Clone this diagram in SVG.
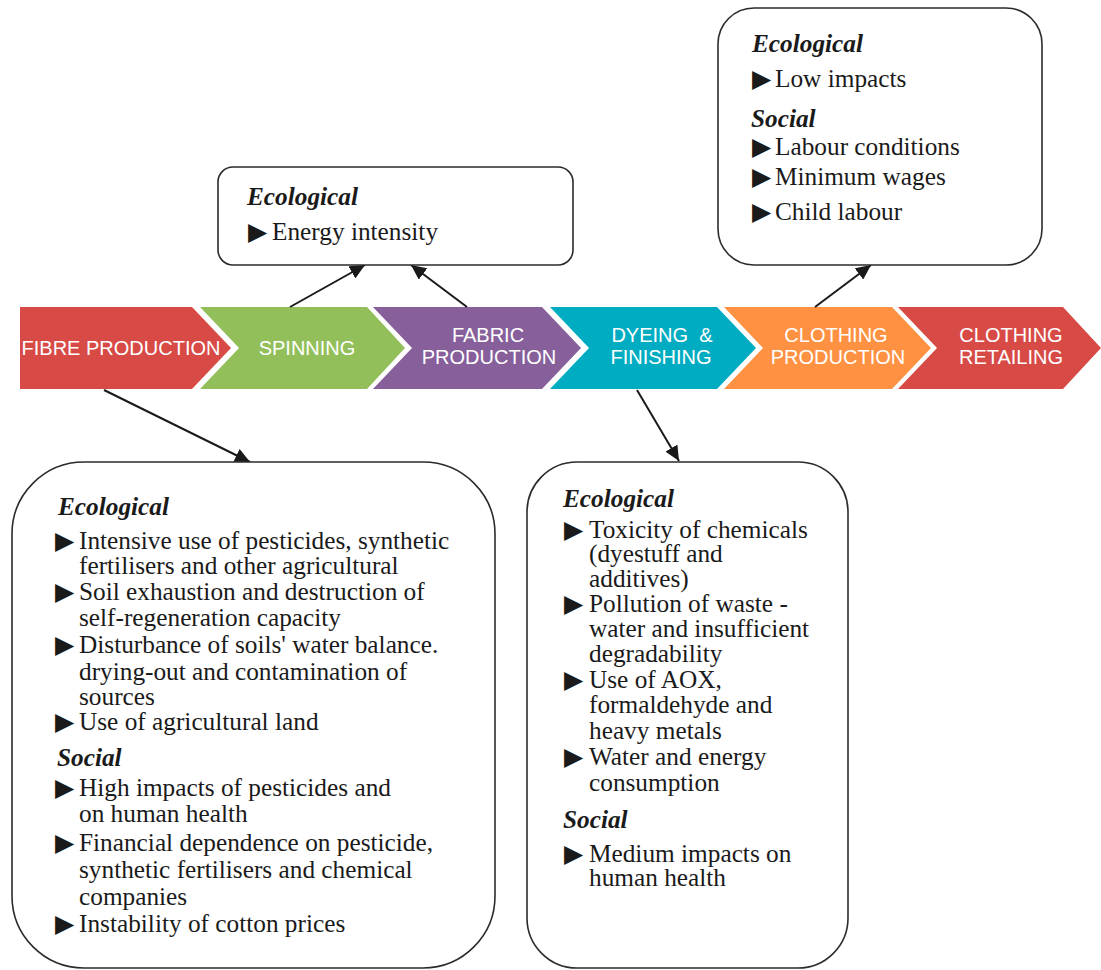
<svg xmlns="http://www.w3.org/2000/svg" width="1101" height="970" viewBox="0 0 1101 970">
<style>
.box{fill:#fff;stroke:#2b2b2b;stroke-width:1.6}
.h{font-family:"Liberation Serif","Times New Roman",serif;font-size:25.3px;font-weight:bold;font-style:italic;fill:#1a1a1a}
.t{font-family:"Liberation Serif","Times New Roman",serif;font-size:25.3px;fill:#1a1a1a}
.b{font-family:"DejaVu Sans",sans-serif;font-size:25px}
.c{font-family:"Liberation Sans",Arial,sans-serif;font-size:20px;fill:#fff;text-anchor:middle}
.ln{stroke:#1a1a1a;stroke-width:2;fill:none;marker-end:url(#ah)}
.chev{stroke:none}
</style>
<defs>
<marker id="ah" markerUnits="userSpaceOnUse" markerWidth="16" markerHeight="14" refX="15" refY="7" orient="auto">
<path d="M0,0 L15,7 L0,14 Z" fill="#1a1a1a"/>
</marker>
</defs>
<rect width="1101" height="970" fill="#fff"/>

<g id="chevrons">
<g id="fibre">
<polygon class="chev" fill="#D84A46" points="20,307 192,307 231,348 192,389 20,389"/>
<text class="c" x="121" y="355">FIBRE PRODUCTION</text>
</g>
<g id="spinning">
<polygon class="chev" fill="#93BF5A" points="200,307 367,307 405,348 367,389 200,389 239,348"/>
<text class="c" x="307" y="355">SPINNING</text>
</g>
<g id="fabric">
<polygon class="chev" fill="#865F9B" points="373,307 542,307 581,348 542,389 373,389 412,348"/>
<text class="c" x="488" y="342">FABRIC</text>
<text class="c" x="489" y="364">PRODUCTION</text>
</g>
<g id="dyeing">
<polygon class="chev" fill="#00ACC1" points="550,307 717,307 756,348 717,389 550,389 589,348"/>
<text class="c" x="662" y="342" xml:space="preserve">DYEING  &amp;</text>
<text class="c" x="661" y="364">FINISHING</text>
</g>
<g id="clothing-production">
<polygon class="chev" fill="#FF9142" points="724,307 892,307 931,348 892,389 724,389 763,348"/>
<text class="c" x="836" y="342">CLOTHING</text>
<text class="c" x="838" y="364">PRODUCTION</text>
</g>
<g id="clothing-retailing">
<polygon class="chev" fill="#D84A46" points="898,307 1063,307 1101,348 1063,389 898,389 937,348"/>
<text class="c" x="1011" y="342">CLOTHING</text>
<text class="c" x="1011" y="364">RETAILING</text>
</g>
</g>

<g id="connectors">
<line class="ln" x1="290" y1="307" x2="365" y2="265"/>
<line class="ln" x1="467" y1="307" x2="411" y2="265"/>
<line class="ln" x1="815" y1="307" x2="871" y2="265"/>
<line class="ln" x1="104" y1="390" x2="250" y2="462"/>
<line class="ln" x1="637" y1="390" x2="679" y2="461"/>
</g>

<g id="box-spinning">
<rect class="box" x="218" y="167" width="355" height="98" rx="15"/>
<text class="h" x="247" y="205">Ecological</text>
<text class="t" x="248" y="240"><tspan class="b">▶</tspan><tspan x="272">Energy intensity</tspan></text>
</g>

<g id="box-clothing">
<rect class="box" x="718" y="8" width="324" height="257" rx="36"/>
<text class="h" x="752" y="52">Ecological</text>
<text class="t" x="752" y="87"><tspan class="b">▶</tspan><tspan x="775">Low impacts</tspan></text>
<text class="h" x="751" y="127">Social</text>
<text class="t" x="752" y="155"><tspan class="b">▶</tspan><tspan x="775">Labour conditions</tspan></text>
<text class="t" x="752" y="185"><tspan class="b">▶</tspan><tspan x="775">Minimum wages</tspan></text>
<text class="t" x="752" y="220"><tspan class="b">▶</tspan><tspan x="775">Child labour</tspan></text>
</g>

<g id="box-fibre">
<rect class="box" x="12" y="462" width="483" height="506" rx="72"/>
<text class="h" x="58" y="515">Ecological</text>
<text class="t" x="55" y="549"><tspan class="b">▶</tspan><tspan x="79">Intensive use of pesticides, synthetic</tspan></text>
<text class="t" x="79" y="574">fertilisers and other agricultural</text>
<text class="t" x="55" y="600"><tspan class="b">▶</tspan><tspan x="79">Soil exhaustion and destruction of</tspan></text>
<text class="t" x="79" y="626">self-regeneration capacity</text>
<text class="t" x="55" y="653"><tspan class="b">▶</tspan><tspan x="79">Disturbance of soils' water balance.</tspan></text>
<text class="t" x="79" y="680">drying-out and contamination of</text>
<text class="t" x="79" y="705">sources</text>
<text class="t" x="55" y="730"><tspan class="b">▶</tspan><tspan x="79">Use of agricultural land</tspan></text>
<text class="h" x="57" y="766">Social</text>
<text class="t" x="55" y="796"><tspan class="b">▶</tspan><tspan x="79">High impacts of pesticides and</tspan></text>
<text class="t" x="79" y="822">on human health</text>
<text class="t" x="55" y="851"><tspan class="b">▶</tspan><tspan x="79">Financial dependence on pesticide,</tspan></text>
<text class="t" x="79" y="878">synthetic fertilisers and chemical</text>
<text class="t" x="79" y="905">companies</text>
<text class="t" x="55" y="932"><tspan class="b">▶</tspan><tspan x="79">Instability of cotton prices</tspan></text>
</g>

<g id="box-dyeing">
<rect class="box" x="527" y="462" width="321" height="506" rx="50"/>
<text class="h" x="563" y="507">Ecological</text>
<text class="t" x="564" y="538"><tspan class="b">▶</tspan><tspan x="589">Toxicity of chemicals</tspan></text>
<text class="t" x="589" y="562">(dyestuff and</text>
<text class="t" x="589" y="587">additives)</text>
<text class="t" x="564" y="612"><tspan class="b">▶</tspan><tspan x="589">Pollution of waste -</tspan></text>
<text class="t" x="589" y="637">water and insufficient</text>
<text class="t" x="589" y="662">degradability</text>
<text class="t" x="564" y="688"><tspan class="b">▶</tspan><tspan x="589">Use of AOX,</tspan></text>
<text class="t" x="589" y="713">formaldehyde and</text>
<text class="t" x="589" y="739">heavy metals</text>
<text class="t" x="564" y="765"><tspan class="b">▶</tspan><tspan x="589">Water and energy</tspan></text>
<text class="t" x="589" y="791">consumption</text>
<text class="h" x="563" y="828">Social</text>
<text class="t" x="564" y="862"><tspan class="b">▶</tspan><tspan x="589">Medium impacts on</tspan></text>
<text class="t" x="589" y="886">human health</text>
</g>
</svg>
